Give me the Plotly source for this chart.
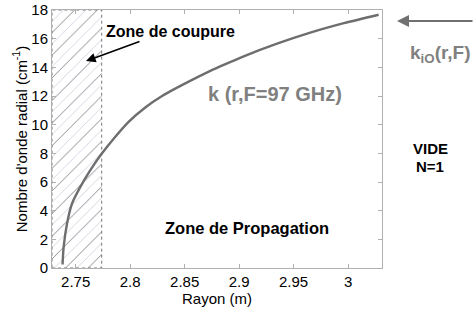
import plotly.graph_objects as go

# data
rayon = [2.738, 2.739, 2.7421, 2.7467, 2.7543, 2.7635, 2.7742, 2.7864, 2.7986,
         2.8139, 2.8293, 2.8537, 2.8736, 2.8858, 2.9042, 2.9348, 2.9653, 2.9961, 3.028]
k_vals = [0.24, 1.47, 3.1, 4.5, 5.66, 6.83, 8.0, 9.16, 10.2,
          11.2, 12.0, 13.0, 13.75, 14.17, 14.77, 15.65, 16.42, 17.08, 17.67]
cut_r = [2.7283, 2.7739]
k_range = [0, 18]
x_ticks = [2.75, 2.8, 2.85, 2.9, 2.95, 3.0]
x_tick_labels = ["2.75", "2.8", "2.85", "2.9", "2.95", "3"]
y_ticks = [0, 2, 4, 6, 8, 10, 12, 14, 16, 18]

FONT = "Liberation Sans, Arial, sans-serif"

fig = go.Figure()

box_x = [cut_r[0], cut_r[1], cut_r[1], cut_r[0], cut_r[0]]
box_y = [k_range[0], k_range[0], k_range[1], k_range[1], k_range[0]]

# hatched cutoff zone: light blue-gray hatch with every other line dark
fig.add_trace(go.Scatter(
    x=box_x, y=box_y, mode="lines", fill="toself",
    fillcolor="rgba(0,0,0,0)",
    fillpattern=dict(shape="/", fgcolor="#9a9ab8", bgcolor="white", size=8, solidity=0.1),
    line=dict(color="rgba(0,0,0,0)", width=0),
    hoverinfo="skip", showlegend=False,
))
fig.add_trace(go.Scatter(
    x=box_x, y=box_y, mode="lines", fill="toself",
    fillcolor="rgba(0,0,0,0)",
    fillpattern=dict(shape="/", fgcolor="#333333", bgcolor="rgba(0,0,0,0)", size=16, solidity=0.05),
    line=dict(color="#777777", width=1, dash="dot"),
    hoverinfo="skip", showlegend=False,
))

fig.add_trace(go.Scatter(
    x=rayon, y=k_vals, mode="lines",
    line=dict(color="#6e6e6e", width=2.4, shape="spline", smoothing=0.8),
    showlegend=False,
))

fig.update_xaxes(
    range=[2.7283, 3.0311], tickvals=x_ticks, ticktext=x_tick_labels,
    showgrid=False, zeroline=False, showline=True, linecolor="#b0b0b0", linewidth=1,
    mirror="ticks", ticks="inside", ticklen=4, tickcolor="#b0b0b0", automargin=False,
    tickfont=dict(family=FONT, size=15, color="black"),
    title=dict(text="Rayon (m)", font=dict(family=FONT, size=15, color="black"), standoff=0),
)
fig.update_yaxes(
    range=k_range, tickvals=y_ticks,
    showgrid=False, zeroline=False, showline=True, linecolor="#b0b0b0", linewidth=1,
    mirror="ticks", ticks="inside", ticklen=4, tickcolor="#b0b0b0", automargin=False,
    tickfont=dict(family=FONT, size=15, color="black"),
    title=dict(text="Nombre d'onde radial (cm<sup>-1</sup>)", font=dict(family=FONT, size=15, color="black"), standoff=0),
)

fig.update_layout(
    width=474, height=315,
    margin=dict(l=52, r=92, t=10, b=47),
    plot_bgcolor="white", paper_bgcolor="white",
    font=dict(family=FONT, size=15, color="black"),
)

def px_to_paper(px, py):
    return (px - 52) / (474 - 52 - 92), 1 - (py - 10) / (315 - 10 - 47)

annots = []
def add_text(px, py, text, size, color, xanchor="left"):
    x, y = px_to_paper(px, py)
    annots.append(dict(x=x, y=y, xref="paper", yref="paper", text=text, showarrow=False,
                       xanchor=xanchor, yanchor="middle",
                       font=dict(family=FONT, size=size, color=color)))

add_text(104, 31, "<b>Zone de coupure</b>", 16, "black")
add_text(206, 94, "<b>k (r,F=97 GHz)</b>", 20, "#808080")
add_text(163, 228, "<b>Zone de Propagation</b>", 16.5, "black")
add_text(430, 148, "<b>VIDE</b>", 15, "black", "center")
add_text(430, 166, "<b>N=1</b>", 15, "black", "center")
add_text(408, 54, "<b>k<sub>iO</sub>(r,F)</b>", 19, "#808080")

# arrows (tail offsets in pixels)
hx, hy = px_to_paper(86, 61)
annots.append(dict(x=hx, y=hy, ax=141 - 86, ay=41 - 61, xref="paper", yref="paper",
                   axref="pixel", ayref="pixel",
                   text="", showarrow=True, arrowhead=2, arrowsize=1.2, arrowwidth=1.6, arrowcolor="black"))
hx, hy = px_to_paper(397, 21)
annots.append(dict(x=hx, y=hy, ax=474 - 397, ay=0, xref="paper", yref="paper",
                   axref="pixel", ayref="pixel",
                   text="", showarrow=True, arrowhead=2, arrowsize=1.2, arrowwidth=2, arrowcolor="#707070"))

fig.update_layout(annotations=annots)
fig.write_html("out.html", config={"displayModeBar": False},
               post_script="document.body.style.margin='0';")
